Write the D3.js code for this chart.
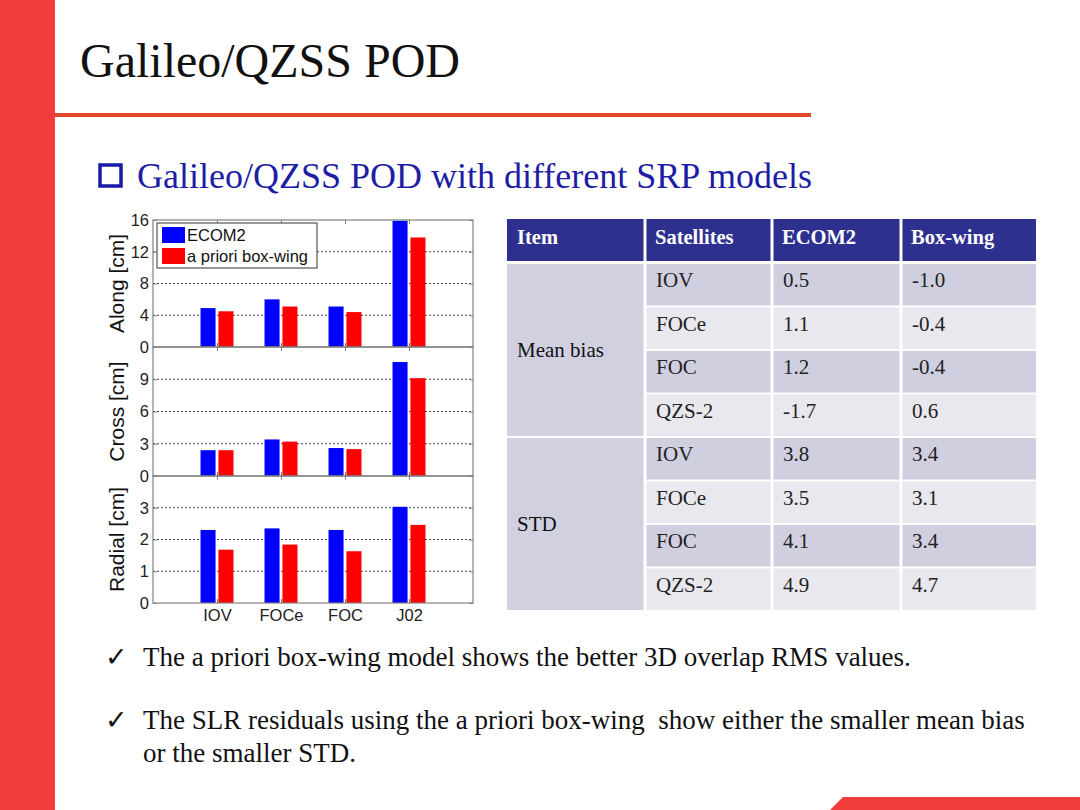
<!DOCTYPE html>
<html><head><meta charset="utf-8">
<script src="https://cdn.jsdelivr.net/npm/d3@7"></script>
<style>html,body{margin:0;padding:0;background:#fff;}svg{display:block;}</style>
</head><body>
<svg id="c" width="1080" height="810"></svg>
<script>
// ---- data ----
const categories = ["IOV","FOCe","FOC","J02"];
const seriesNames = ["ECOM2","a priori box-wing"];
const alongECOM2 = [4.9, 6.0, 5.1, 15.9];
const alongBoxWing = [4.5, 5.1, 4.4, 13.8];
const crossECOM2 = [2.4, 3.4, 2.6, 10.6];
const crossBoxWing = [2.4, 3.2, 2.5, 9.1];
const radialECOM2 = [2.3, 2.35, 2.3, 3.03];
const radialBoxWing = [1.68, 1.84, 1.63, 2.46];
const alongTicks = [0,4,8,12,16];
const crossTicks = [0,3,6,9];
const radialTicks = [0,1,2,3];
const panelLabels = ["Along [cm]","Cross [cm]","Radial [cm]"];

const tableHeader = ["Item","Satellites","ECOM2","Box-wing"];
const tableItems = ["Mean bias","STD"];
const tableSatellites = ["IOV","FOCe","FOC","QZS-2"];
const meanBiasECOM2 = ["0.5","1.1","1.2","-1.7"];
const meanBiasBoxWing = ["-1.0","-0.4","-0.4","0.6"];
const stdECOM2 = ["3.8","3.5","4.1","4.9"];
const stdBoxWing = ["3.4","3.1","3.4","4.7"];

const titleText = "Galileo/QZSS POD";
const subtitleText = "Galileo/QZSS POD with different SRP models";
const bullet1 = "The a priori box-wing model shows the better 3D overlap RMS values.";
const bullet2a = "The SLR residuals using the a priori box-wing  show either the smaller mean bias";
const bullet2b = "or the smaller STD.";

// ---- drawing ----
const svg = d3.select("#c");
const serif = "'Liberation Serif','Times New Roman',serif";
const sans = "'Liberation Sans',Arial,sans-serif";

// slide decor
svg.append("rect").attr("x",0).attr("y",0).attr("width",55).attr("height",810).attr("fill","#F23B3B");
svg.append("rect").attr("x",55).attr("y",113).attr("width",756).attr("height",4).attr("fill","#E04A2A");
svg.append("path").attr("d","M830,810 L843,797 L1080,797 L1080,810 Z").attr("fill","#F23B3B");

svg.append("text").attr("x",80).attr("y",77).attr("font-family",serif).attr("font-size",48)
  .attr("fill","#111").text(titleText);
svg.append("rect").attr("x",100).attr("y",165).attr("width",21).attr("height",21)
  .attr("fill","none").attr("stroke","#1a1aa8").attr("stroke-width",3.5);
svg.append("text").attr("x",137).attr("y",188).attr("font-family",serif).attr("font-size",36)
  .attr("fill","#1d1da6").text(subtitleText);

// chart
const x = d3.scaleLinear().domain([0,5]).range([153,473]);
const panels = [
  {label:panelLabels[0], max:16, ticks:alongTicks, a:alongECOM2, b:alongBoxWing, r:[347,220]},
  {label:panelLabels[1], max:12, ticks:crossTicks, a:crossECOM2, b:crossBoxWing, r:[476,347]},
  {label:panelLabels[2], max:4, ticks:radialTicks, a:radialECOM2, b:radialBoxWing, r:[603,476]}
];
const barW = 0.235, off = 0.14;
const colors = ["#0000FF","#FF0000"];
const axisColor = "#808080";

panels.forEach((p,pi)=>{
  const y = d3.scaleLinear().domain([0,p.max]).range(p.r);
  const g = svg.append("g");
  p.ticks.filter(t=>t>0 && t<p.max).forEach(t=>{
    g.append("line").attr("x1",x(0)).attr("x2",x(5)).attr("y1",y(t)).attr("y2",y(t))
      .attr("stroke","#444").attr("stroke-width",1).attr("stroke-dasharray","2,2");
  });
  const data = categories.map((c,i)=>({i:i+1, a:p.a[i], b:p.b[i]}));
  [["a",-off],["b",off]].forEach(([k,o],si)=>{
    g.selectAll("rect.s"+k).data(data).enter().append("rect")
      .attr("x",d=>x(d.i+o-barW/2)).attr("width",x(barW)-x(0))
      .attr("y",d=>y(d[k])).attr("height",d=>y(0)-y(d[k]))
      .attr("fill",colors[si]);
  });
  g.append("rect").attr("x",x(0)).attr("y",y(p.max)).attr("width",x(5)-x(0)).attr("height",y(0)-y(p.max))
    .attr("fill","none").attr("stroke",axisColor).attr("stroke-width",1.2);
  const ya = d3.axisLeft(y).tickValues(p.ticks).tickSize(-4).tickPadding(4).tickFormat(d3.format("d"));
  const yg = g.append("g").attr("transform",`translate(${x(0)},0)`).call(ya);
  yg.select(".domain").remove();
  yg.selectAll("line").attr("stroke",axisColor);
  yg.selectAll("text").attr("font-family",sans).attr("font-size",16.5).attr("fill","#222");
  const yr = d3.axisRight(y).tickValues(p.ticks).tickSize(-4).tickFormat("");
  const yrg = g.append("g").attr("transform",`translate(${x(5)},0)`).call(yr);
  yrg.select(".domain").remove(); yrg.selectAll("line").attr("stroke",axisColor);
  const xb = d3.axisBottom(x).tickValues([1,2,3,4]).tickSize(-4).tickPadding(6)
    .tickFormat(d=> pi===2 ? categories[d-1] : "");
  const xbg = g.append("g").attr("transform",`translate(0,${y(0)})`).call(xb);
  xbg.select(".domain").remove(); xbg.selectAll("line").attr("stroke",axisColor);
  xbg.selectAll("text").attr("font-family",sans).attr("font-size",16.5).attr("fill","#222");
  const xt = d3.axisTop(x).tickValues([1,2,3,4]).tickSize(-4).tickFormat("");
  const xtg = g.append("g").attr("transform",`translate(0,${y(p.max)})`).call(xt);
  xtg.select(".domain").remove(); xtg.selectAll("line").attr("stroke",axisColor);
  const cy = (p.r[0]+p.r[1])/2;
  svg.append("text").attr("transform",`translate(124,${cy}) rotate(-90)`).attr("text-anchor","middle")
    .attr("font-family",sans).attr("font-size",21).attr("fill","#111").text(p.label);
});

// legend
const lg = svg.append("g");
lg.append("rect").attr("x",157).attr("y",223).attr("width",160).attr("height",45)
  .attr("fill","#fff").attr("stroke","#333").attr("stroke-width",1);
seriesNames.forEach((s,i)=>{
  lg.append("rect").attr("x",162).attr("y",227+i*21).attr("width",23).attr("height",16).attr("fill",colors[i]);
  lg.append("text").attr("x",187).attr("y",241+i*21).attr("font-family",sans).attr("font-size",16.5)
    .attr("fill","#111").text(s);
});

// table
const colX = [507,645,772,901,1036];
const headTop = 219, headBot = 261, rowTop = 263, rowH = 43.5;
const tg = svg.append("g");
tableHeader.forEach((h,j)=>{
  tg.append("rect").attr("x",colX[j]+(j?1.5:0)).attr("y",headTop).attr("width",colX[j+1]-colX[j]-(j?1.5:0)-(j<3?1.5:0))
    .attr("height",headBot-headTop).attr("fill","#2E3090");
  tg.append("text").attr("x",colX[j]+10).attr("y",244).attr("font-family",serif).attr("font-weight","bold")
    .attr("font-size",20.5).attr("fill","#fff").text(h);
});
const groups = [
  {item:tableItems[0], e:meanBiasECOM2, b:meanBiasBoxWing},
  {item:tableItems[1], e:stdECOM2, b:stdBoxWing}
];
groups.forEach((gr,gi)=>{
  const top = rowTop + gi*4*rowH;
  tg.append("rect").attr("x",colX[0]).attr("y",top+1).attr("width",colX[1]-colX[0]-1.5).attr("height",4*rowH-2)
    .attr("fill","#D0D0E1");
  tg.append("text").attr("x",colX[0]+10).attr("y",top+2*rowH+7).attr("font-family",serif)
    .attr("font-size",21).attr("fill","#111").text(gr.item);
  tableSatellites.forEach((s,ri)=>{
    const ry = top + ri*rowH;
    const fill = ri%2===0 ? "#CFCFE0" : "#E8E8EE";
    const vals = [s, gr.e[ri], gr.b[ri]];
    vals.forEach((v,ci)=>{
      const j = ci+1;
      tg.append("rect").attr("x",colX[j]+1.5).attr("y",ry+1).attr("width",colX[j+1]-colX[j]-(j<3?3:1.5))
        .attr("height",rowH-2).attr("fill",fill);
      tg.append("text").attr("x",colX[j]+11).attr("y",ry+24).attr("font-family",serif)
        .attr("font-size",21).attr("fill","#222").text(v);
    });
  });
});

// bullets
const bl = [[bullet1,666,true],[bullet2a,729,true],[bullet2b,762,false]];
bl.forEach(([t,yy,chk])=>{
  if(chk) svg.append("text").attr("x",105).attr("y",yy).attr("font-family","'DejaVu Sans',sans-serif")
    .attr("font-size",27).attr("fill","#111").text("\u2713");
  svg.append("text").attr("x",143).attr("y",yy).attr("font-family",serif).attr("font-size",27)
    .style("white-space","pre").attr("fill","#111").text(t);
});
</script>
</body></html>
